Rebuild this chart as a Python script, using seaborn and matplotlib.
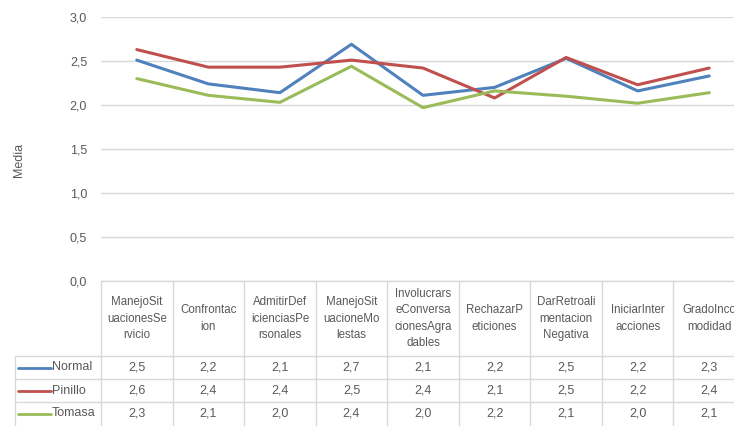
import pandas as pd
import matplotlib.pyplot as plt
import seaborn as sns

# data
categories = ["ManejoSituacionesServicio", "Confrontacion", "AdmitirDeficienciasPersonales",
              "ManejoSituacioneMolestas", "InvolucrarseConversacionesAgradables",
              "RechazarPeticiones", "DarRetroalimentacionNegativa", "IniciarInteracciones",
              "GradoIncomodidad"]
header_labels = ["ManejoSit\nuacionesSe\nrvicio", "Confrontac\nion", "AdmitirDef\nicienciasPe\nrsonales",
                 "ManejoSit\nuacioneMo\nlestas", "Involucrars\neConversa\ncionesAgra\ndables",
                 "RechazarP\neticiones", "DarRetroali\nmentacion\nNegativa", "IniciarInter\nacciones",
                 "GradoInco\nmodidad"]
normal = [2.51, 2.24, 2.14, 2.69, 2.11, 2.20, 2.53, 2.16, 2.33]
pinillo = [2.63, 2.43, 2.43, 2.51, 2.42, 2.08, 2.54, 2.23, 2.42]
tomasa = [2.30, 2.11, 2.03, 2.44, 1.97, 2.16, 2.10, 2.02, 2.14]
series = ["Normal", "Pinillo", "Tomasa"]
colors = ["#4F81BD", "#C0504D", "#9BBB59"]

rows = []
for name, vals in zip(series, [normal, pinillo, tomasa]):
    for i, v in enumerate(vals):
        rows.append({"idx": i, "Categoria": categories[i], "Media": v, "Grupo": name})
df = pd.DataFrame(rows)

sns.set_style("white")
plt.rcParams["font.family"] = ["Liberation Sans", "DejaVu Sans"]
text_col = "#595959"
grid_col = "#D9D9D9"

W, H = 734, 426
fig = plt.figure(figsize=(W / 100, H / 100), dpi=100)

# plot area (right side runs past the figure edge like the reference)
left_px, right_px, top_px, bottom_px = 101, 745, 17, 281
ax = fig.add_axes([left_px / W, 1 - bottom_px / H, (right_px - left_px) / W, (bottom_px - top_px) / H])
sns.lineplot(data=df, x="idx", y="Media", hue="Grupo", palette=colors, linewidth=2.2,
             sort=False, legend=False, ax=ax)
ax.set_xlim(-0.5, len(categories) - 0.5)
ax.set_ylim(0, 3)
ax.set_yticks([0, 0.5, 1, 1.5, 2, 2.5, 3])
ax.set_yticklabels([f"{t:.1f}".replace(".", ",") for t in ax.get_yticks()])
ax.tick_params(axis="y", length=0, pad=10, labelsize=9, labelcolor=text_col)
ax.set_xticks([])
ax.set_xlabel("")
ax.set_ylabel("Media", fontsize=9, color=text_col)
ax.yaxis.set_label_coords(-0.118, 0.46)
ax.grid(axis="y", color=grid_col, linewidth=1)
for s in ax.spines.values():
    s.set_visible(False)

# data table under the chart
tab_h = H - bottom_px
tax = fig.add_axes([left_px / W, 0, (right_px - left_px) / W, tab_h / H])
tax.set_xlim(-0.5, len(categories) - 0.5)
tax.set_ylim(tab_h, 0)
tax.axis("off")

head_h, row_h = 75, 23
unit = (right_px - left_px) / len(categories)
x_leg = -0.5 - (left_px - 15) / unit
lw = 1.0
# vertical lines
for i in range(len(categories) + 1):
    tax.plot([i - 0.5, i - 0.5], [0, tab_h], color=grid_col, lw=lw, clip_on=False)
tax.plot([x_leg, x_leg], [head_h, tab_h], color=grid_col, lw=lw, clip_on=False)
# horizontal lines
tax.plot([-0.5, len(categories) - 0.5], [0, 0], color=grid_col, lw=lw, clip_on=False)
for r in range(3):
    yy = head_h + r * row_h
    tax.plot([x_leg, len(categories) - 0.5], [yy, yy], color=grid_col, lw=lw, clip_on=False)

for i, lab in enumerate(header_labels):
    tax.text(i, head_h / 2, lab, ha="center", va="center", fontsize=8.3, color=text_col,
             linespacing=1.5, clip_on=False)

for r, (name, vals, c) in enumerate(zip(series, [normal, pinillo, tomasa], colors)):
    yc = head_h + r * row_h + row_h / 2
    tax.plot([-0.5 - (left_px - 18) / unit, -0.5 - (left_px - 51) / unit], [yc, yc],
             color=c, lw=2.0, clip_on=False)
    tax.text(-0.5 - (left_px - 52) / unit, yc, name, ha="left", va="center", fontsize=9,
             color=text_col, clip_on=False)
    for i, v in enumerate(vals):
        tax.text(i, yc, f"{v:.1f}".replace(".", ","), ha="center", va="center",
                 fontsize=9, color=text_col, clip_on=False)

fig.savefig("out.png", dpi=100)
